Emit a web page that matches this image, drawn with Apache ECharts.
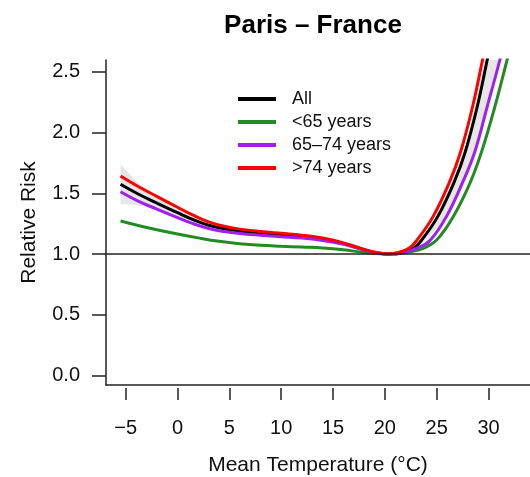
<!DOCTYPE html>
<html>
<head>
<meta charset="utf-8">
<script src="https://cdn.jsdelivr.net/npm/echarts@6/dist/echarts.min.js"></script>
<style>
  html, body { margin: 0; padding: 0; background: #fff; }
  #chart { width: 530px; height: 477px; }
</style>
</head>
<body>
<div id="chart"></div>
<script>
// Axis ticks
const xTicks = [-5, 0, 5, 10, 15, 20, 25, 30];
const yTicks = [0, 0.5, 1, 1.5, 2, 2.5];

// Legend entries
const seriesNames = ['All', '<65 years', '65–74 years', '>74 years'];

// All ages
const tempAll = [-5.5, -3.8, -2, 0, 1.5, 3, 4.5, 6, 8, 10, 12, 14, 16, 18, 19.3, 20.3, 21.85, 22.85, 23.51, 25.11, 26.72, 27.75, 28.91, 29.87, 30.45];
const rrAll   = [1.574, 1.494, 1.42, 1.34, 1.283, 1.237, 1.208, 1.19, 1.173, 1.16, 1.147, 1.125, 1.087, 1.035, 1.008, 1.0, 1.015, 1.052, 1.11, 1.31, 1.6, 1.84, 2.213, 2.598, 2.84];

// Under 65
const tempU65 = [-5.5, -3.8, -2, 0, 2, 4, 6, 8, 10, 12, 14, 16, 18, 19.5, 20.6, 21.5, 22.4, 23.7, 24.99, 26.59, 28.2, 29.32, 30.61, 31.79, 32.4];
const rrU65   = [1.272, 1.235, 1.2, 1.165, 1.133, 1.105, 1.085, 1.072, 1.064, 1.057, 1.05, 1.035, 1.012, 1.003, 1.0, 1.005, 1.018, 1.047, 1.115, 1.307, 1.582, 1.84, 2.213, 2.598, 2.80];

// 65-74
const temp6574 = [-5.5, -3.8, -2, 0, 1.5, 3, 4.5, 6, 8, 10, 12, 14, 16, 18, 19.3, 20.4, 21.8, 23.06, 24.34, 25.95, 27.55, 28.67, 29.87, 31.09, 31.7];
const rr6574   = [1.513, 1.436, 1.37, 1.30, 1.25, 1.21, 1.185, 1.169, 1.155, 1.143, 1.131, 1.112, 1.08, 1.032, 1.008, 1.0, 1.01, 1.047, 1.11, 1.31, 1.6, 1.84, 2.213, 2.598, 2.82];

// Over 74
const tempO74 = [-5.5, -3.8, -2, 0, 1.5, 3, 4.5, 6, 8, 10, 12, 14, 16, 18, 19.3, 20.3, 21.4, 22.4, 23.06, 24.66, 26.27, 27.3, 28.46, 29.42, 30.0];
const rrO74   = [1.642, 1.556, 1.475, 1.385, 1.32, 1.265, 1.228, 1.205, 1.185, 1.170, 1.155, 1.132, 1.092, 1.038, 1.01, 1.0, 1.015, 1.052, 1.11, 1.31, 1.6, 1.84, 2.213, 2.598, 2.84];

// 95% confidence band around "All"
const tempBand = [-5.5, -3.8, -2, 0, 1.5, 3, 4.5, 6, 8, 10, 12, 14, 16, 18, 19.3, 20.3, 21.5, 22.4, 23.54, 25.14, 26.75, 27.94, 28.84, 29.86, 30.4, 31.0];
const bandLow  = [1.409, 1.40, 1.365, 1.305, 1.258, 1.22, 1.195, 1.178, 1.163, 1.15, 1.137, 1.115, 1.078, 1.03, 1.006, 1.0, 1.006, 1.03, 1.085, 1.23, 1.43, 1.65, 1.90, 2.22, 2.40, 2.60];
const bandHigh = [1.739, 1.59, 1.478, 1.378, 1.31, 1.255, 1.222, 1.202, 1.183, 1.17, 1.157, 1.135, 1.096, 1.04, 1.01, 1.0, 1.018, 1.05, 1.13, 1.335, 1.63, 1.93, 2.30, 2.69, 2.92, 3.10];

const FONT = 'Liberation Sans, Arial, Helvetica, sans-serif';
const zip = (xs, ys) => xs.map((x, i) => [x, ys[i]]);

// Catmull-Rom spline through pixel points, as SVG path commands
function splinePath(pts, start) {
  let d = (start ? 'M' : 'L') + pts[0][0] + ',' + pts[0][1];
  for (let i = 0; i < pts.length - 1; i++) {
    const p0 = pts[i - 1] || pts[i];
    const p1 = pts[i];
    const p2 = pts[i + 1];
    const p3 = pts[i + 2] || p2;
    const c1x = p1[0] + (p2[0] - p0[0]) / 6, c1y = p1[1] + (p2[1] - p0[1]) / 6;
    const c2x = p2[0] - (p3[0] - p1[0]) / 6, c2y = p2[1] - (p3[1] - p1[1]) / 6;
    d += 'C' + c1x + ',' + c1y + ' ' + c2x + ',' + c2y + ' ' + p2[0] + ',' + p2[1];
  }
  return d;
}

const curve = (name, color, xs, ys) => ({
  name: name,
  type: 'line',
  color: color,
  data: zip(xs, ys),
  smooth: 0.4,
  symbol: 'none',
  showSymbol: false,
  clip: true,
  lineStyle: { color: color, width: 3 },
  z: 3
});

const chart = echarts.init(document.getElementById('chart'), null, { renderer: 'canvas' });

chart.setOption({
  animation: false,
  backgroundColor: '#fff',
  textStyle: { fontFamily: FONT },
  title: {
    text: 'Paris – France',
    left: 308,
    top: 8,
    textAlign: 'center',
    textStyle: { fontSize: 26, fontWeight: 'bold', color: '#000', fontFamily: FONT }
  },
  legend: {
    data: seriesNames,
    orient: 'vertical',
    left: 233,
    top: 85,
    itemWidth: 38,
    itemHeight: 20,
    itemGap: 5,
    icon: 'path://M0,0H38V4H0Z',
    selectedMode: false,
    textStyle: { fontSize: 18, color: '#111', fontFamily: FONT, padding: [0, 0, 0, 11] }
  },
  grid: { left: 106, right: 0, top: 60, bottom: 92, containLabel: false, outerBoundsMode: 'none' },
  xAxis: [
    {
      type: 'value',
      min: -6.9,
      max: 34,
      position: 'bottom',
      axisLine: { show: true, onZero: false, lineStyle: { color: '#222', width: 1.5 } },
      axisTick: { show: false },
      axisLabel: { show: false },
      splitLine: { show: false },
      name: 'Mean Temperature (°C)',
      nameLocation: 'middle',
      nameGap: 70,
      nameTextStyle: { fontSize: 21, color: '#111', fontFamily: FONT }
    },
    {
      type: 'value',
      min: -6.9,
      max: 34,
      position: 'bottom',
      offset: 3,
      axisLine: { show: false, onZero: false },
      axisTick: { show: true, length: 12, customValues: xTicks, lineStyle: { color: '#222', width: 1.5 } },
      axisLabel: {
        show: true,
        customValues: xTicks,
        margin: 30,
        fontSize: 20,
        color: '#111',
        fontFamily: FONT,
        formatter: v => (v < 0 ? '\u2212' + Math.abs(v) : String(v))
      },
      splitLine: { show: false }
    }
  ],
  yAxis: {
    type: 'value',
    min: -0.079,
    max: 2.598,
    axisLine: { show: true, onZero: false, lineStyle: { color: '#222', width: 1.5 } },
    axisTick: { show: true, length: 14, customValues: yTicks, lineStyle: { color: '#222', width: 1.5 } },
    axisLabel: {
      show: true,
      customValues: yTicks,
      margin: 26,
      fontSize: 20,
      color: '#111',
      fontFamily: FONT,
      formatter: v => v.toFixed(1)
    },
    splitLine: { show: false },
    name: 'Relative Risk',
    nameLocation: 'middle',
    nameGap: 66,
    nameTextStyle: { fontSize: 21, color: '#111', fontFamily: FONT }
  },
  series: [
    {
      name: 'ci',
      type: 'custom',
      data: tempBand.map((t, i) => [t, bandLow[i], bandHigh[i]]),
      encode: { x: 0, y: [1, 2] },
      z: 1,
      renderItem: (params, api) => {
        if (params.dataIndex !== 0) return null;
        const upper = tempBand.map((t, i) => api.coord([t, bandHigh[i]]));
        const lower = tempBand.map((t, i) => api.coord([t, bandLow[i]])).reverse();
        const cs = params.coordSys;
        return {
          type: 'path',
          shape: { pathData: splinePath(upper, true) + splinePath(lower, false) + 'Z' },
          style: { fill: '#e6e6e6', stroke: null },
          clipPath: { type: 'rect', shape: { x: cs.x, y: cs.y, width: cs.width, height: cs.height } }
        };
      },
      markLine: {
        silent: true,
        symbol: ['none', 'none'],
        label: { show: false },
        lineStyle: { color: '#222', width: 1.5, type: 'solid' },
        data: [{ yAxis: 1 }]
      }
    },
    curve('All', '#000000', tempAll, rrAll),
    curve('<65 years', '#228B22', tempU65, rrU65),
    curve('65–74 years', '#A020F0', temp6574, rr6574),
    curve('>74 years', '#FF0000', tempO74, rrO74)
  ]
});
</script>
</body>
</html>
